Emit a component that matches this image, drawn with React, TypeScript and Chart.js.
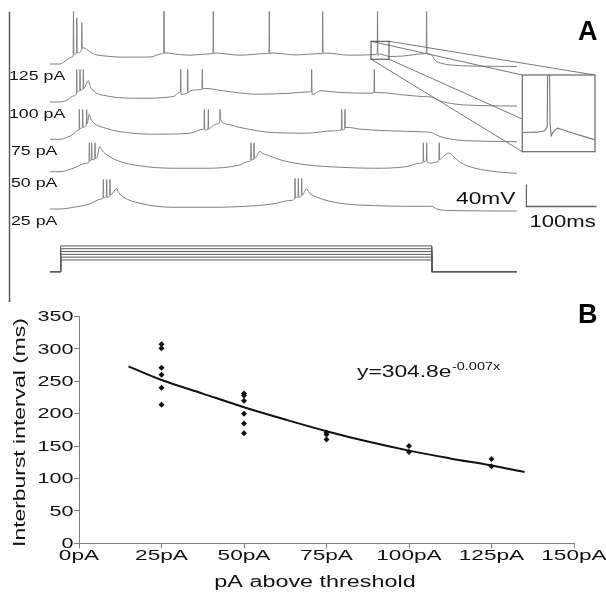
import React, { useEffect, useRef } from 'react';
import { Chart, registerables } from 'chart.js';
Chart.register(...registerables);

// ================= DATA =================
// ---- Panel A: membrane potential traces (time in ms, voltage in mV relative to rest) ----
const TRACE_LABELS = ['125 pA', '100 pA', '75 pA', '50 pA', '25 pA'];

const TRACE_125PA: number[][] = [
  [0, 0], [14.3, 0], [21.4, 5], [31, 12.4],
  [33, 14], [33.5, 96], [34.2, 18], [35.2, 17], [37.8, 22], [38.3, 84], [39, 20],
  [41, 20.4], [44.9, 26], [45.4, 76], [46.1, 28], [47.6, 29.6], [52.4, 26.5], [62, 18.5],
  [81, 14.3], [105, 12.4], [143, 12.7], [159.5, 18.5],
  [162.4, 19.5], [162.9, 96], [163.5, 19], [165.7, 20.4], [176, 18.5], [200, 16], [228.6, 18.5],
  [232.8, 19.5], [233.3, 96], [233.9, 19], [237, 20], [271, 16], [309.5, 19],
  [312.8, 19.5], [313.3, 96], [313.9, 19], [317, 20], [352, 16.5], [385.7, 19],
  [389, 19.5], [389.5, 96], [390.1, 19], [393, 20], [428, 16], [464, 17],
  [466.6, 17.6], [467.4, 19.3], [467.9, 96], [468.4, 20.8], [468.8, 15.4], [469.6, 17.2],
  [471, 18.7], [473.1, 17.9], [476.6, 16.5], [481.4, 14.8], [484.3, 13.7], [504.8, 14.5], [533, 18.5],
  [537.5, 19.5], [538, 96], [538.6, 19], [542, 18.5],
  [546, 15], [550, 7], [560, 1], [580, -2.5], [620, -4], [667, -4.6],
];

const TRACE_100PA: number[][] = [
  [0, 0], [14.3, 0], [25, 4], [33.3, 11],
  [37.6, 14], [38.1, 59.3], [38.7, 18], [40, 19], [42.4, 21], [42.9, 59.3], [43.5, 20], [45, 22],
  [47.1, 24], [47.6, 59.3], [48.2, 24], [50, 28], [54.8, 38.9], [57, 30], [61.9, 20.4],
  [81, 11.1], [128.6, 6.8], [176.2, 9.9],
  [184.8, 17.3], [186.2, 18], [186.7, 59.3], [187.3, 14], [189.5, 14.2], [196.2, 17], [196.7, 59.3],
  [197.3, 17], [200, 20.4], [214.3, 22.2], [217.1, 23], [217.6, 59.3], [218.2, 24], [221.4, 24.7],
  [247.6, 20.4], [295.2, 14.2], [342.9, 16], [370.5, 18.5],
  [373.3, 19], [373.8, 59.3], [374.4, 14], [377.1, 14.2], [385.7, 20.4], [414.3, 17.3], [457, 16],
  [462.8, 17], [463.3, 59.3], [463.9, 17], [467.6, 17.3], [509.5, 12.3], [533.3, 9.9], [545.2, 9],
  [555, 3], [580, -4], [620, -6.5], [667, -7.4],
];

const TRACE_75PA: number[][] = [
  [0, 0], [14.3, 0], [25, 4], [33.3, 9.3], [38.1, 15.4],
  [41.4, 17], [41.9, 54.3], [42.5, 18], [44, 20], [46.2, 21.5], [46.7, 54.3], [47.3, 21.5],
  [49.5, 23], [51.9, 25], [52.4, 54.3], [53, 28], [56.2, 46.3], [58, 38], [61.9, 30.7],
  [81, 19.6], [109.5, 12.2], [152.4, 9.3], [200, 11.1], [219, 18.5],
  [220, 19], [220.5, 54.3], [221.1, 17.2], [223.5, 17.2], [225.7, 18.5], [226.2, 54.3], [226.8, 18.5],
  [232, 24], [238, 27.7], [242.4, 30], [242.9, 54.3], [243.5, 37], [252.4, 27.7], [271.4, 21.5],
  [319, 12.2], [366.7, 11.1], [404.8, 15.4],
  [416.2, 17], [416.7, 54.3], [417.3, 17], [420.9, 18], [421.4, 54.3], [422, 21.5], [426.2, 21.5],
  [442.9, 18.5], [485.7, 15.4], [533.3, 13.5], [545.2, 12.2],
  [555, 6], [580, -1], [620, -3.5], [667, -4.4],
];

const TRACE_50PA: number[][] = [
  [0, 0], [14.3, 0], [33.3, 6.3], [52.4, 15.6],
  [55.7, 17], [56.2, 52.6], [56.8, 19], [58, 20], [59, 21.7], [59.5, 52.6], [60.1, 21.7],
  [61.5, 22], [63.8, 23], [64.3, 52.6], [64.9, 24], [67, 26], [71.4, 46.3], [73.8, 40.2], [81, 30.9],
  [100, 18.5], [128.6, 10.6], [176.2, 6.3], [223.8, 6.3], [271.4, 12.4], [283.3, 18.5],
  [286.6, 20], [287.1, 52.6], [287.7, 21], [289, 21.7], [290.9, 22], [291.4, 52.6], [292, 24],
  [295, 28], [300, 37], [304, 33], [309.5, 30.9], [328.6, 21.7], [366.7, 12.4], [414.3, 8.1],
  [461.9, 6.3], [509.5, 9.3], [528.6, 15.6],
  [532.8, 17], [533.3, 52.6], [533.9, 18], [537.6, 20], [538.1, 52.6], [538.7, 18], [545.2, 15.6],
  [550, 17], [555.5, 20], [556, 52.6], [556.6, 22], [562, 28], [570, 34], [576, 28],
  [585, 18], [600, 9], [630, 1], [667, -3],
];

const TRACE_25PA: number[][] = [
  [0, 0], [14.3, 0], [33.3, 3.1], [57.1, 9.3], [73.8, 18.5],
  [75.7, 19], [76.2, 53.7], [76.8, 20], [78.5, 21], [80.5, 21.5], [81, 53.7], [81.6, 21.6],
  [83.5, 22], [85.2, 23], [85.7, 53.7], [86.3, 25], [90, 30], [95.2, 37], [98, 30], [104.8, 21.6],
  [128.6, 10.5], [176.2, 3.1], [223.8, 3.1], [271.4, 4.3], [319, 9.3], [342.9, 15.4],
  [349.5, 19], [350, 55.6], [350.6, 20], [352.5, 21], [354.3, 21.5], [354.8, 55.6], [355.4, 21.6],
  [357.5, 22], [359, 23], [359.5, 55.6], [360.1, 25], [363, 30], [366.7, 37], [370, 30], [381, 21.6],
  [414.3, 10.5], [461.9, 6.2], [509.5, 4.9], [545.2, 4.9], [552.4, 0], [580, -3], [667, -3.7],
];

const TRACES = [TRACE_125PA, TRACE_100PA, TRACE_75PA, TRACE_50PA, TRACE_25PA];

// current command steps (pA) and step timing (ms): start, onset, offset, end
const STEP_LEVELS_PA = [105, 130, 155, 180, 205, 230];
const STEP_TIMES_MS = [0, 15.3, 545.3, 667];

// scale bar values
const SCALE_BAR_MS = 100;
const SCALE_BAR_MV = 40;
const SCALE_BAR_LABELS = ['40mV', '100ms'];

// magnified window of the 125 pA trace (ms, mV)
const INSET_WINDOW_MS = [458.6, 484.3];
const INSET_WINDOW_MV = [8.7, 41.3];

// ---- Panel B: interburst interval vs current ----
const X_TICK_VALUES = [0, 25, 50, 75, 100, 125, 150];
const X_TICK_LABELS = ['0pA', '25pA', '50pA', '75pA', '100pA', '125pA', '150pA'];
const Y_TICK_VALUES = [0, 50, 100, 150, 200, 250, 300, 350];
const IBI_CURRENT = [25, 25, 25, 25, 25, 25, 50, 50, 50, 50, 50, 50, 75, 75, 75, 100, 100, 125, 125];
const IBI_MS = [307, 301, 271, 260, 240, 214, 231, 228, 220, 200, 185, 170, 171, 168, 160, 150, 141, 130, 119];
const FIT_CURRENT = [15, 25, 37.5, 50, 62.5, 75, 87.5, 100, 112.5, 125, 135];
const FIT_MS = [273, 252, 231, 210, 191, 173, 157, 143, 131, 120, 110];
const FIT_LABEL = 'y=304.8e';
const FIT_LABEL_EXP = '-0.007x';
const X_TITLE = 'pA above threshold';
const Y_TITLE = 'Interburst interval (ms)';

// ================= LAYOUT / STYLE =================
const FONT = '"Liberation Sans", Arial, Helvetica, sans-serif';
const A_W = 606;
const A_H = 302;
const B_W = 606;
const B_H = 294;
const B_TOP = 300;
const MS_PER_PX = 100 / 70;
const MV_PER_PX = 40 / 22;
const PA_PER_PX = 25 / 2.8;
const T0_PX = 50;
const TRACE_BASE_PX = [64, 102, 139.3, 171.7, 209];
const STEP_BASE_PX = 271.7;
const BIG_BOX = { x0: 522.3, y0: 75, x1: 595, y1: 151.7 };
const TRACE_COLOR = '#7f7f7f';

function drawText(
  ctx: CanvasRenderingContext2D,
  text: string,
  x: number,
  y: number,
  size: number,
  o: { align?: CanvasTextAlign; baseline?: CanvasTextBaseline; bold?: boolean; k?: number; color?: string; rotate?: number } = {}
) {
  const { align = 'left', baseline = 'alphabetic', bold = false, k = 1, color = '#111', rotate = 0 } = o;
  ctx.save();
  ctx.translate(x, y);
  if (rotate) ctx.rotate(rotate);
  ctx.scale(k, 1);
  ctx.font = `${bold ? 'bold ' : ''}${size}px ${FONT}`;
  ctx.textAlign = align;
  ctx.textBaseline = baseline;
  ctx.fillStyle = color;
  ctx.fillText(text, 0, 0);
  const w = ctx.measureText(text).width * k;
  ctx.restore();
  return w;
}

function buildA(): any {
  const traceSets = TRACES.map((tr, i) => ({
    data: tr.map(([t, v]) => ({ x: t, y: v - TRACE_BASE_PX[i] * MV_PER_PX })),
    showLine: true,
    borderColor: TRACE_COLOR,
    borderWidth: 1,
    pointRadius: 0,
    cubicInterpolationMode: 'monotone',
    yAxisID: 'y',
  }));
  const [s0, sOn, sOff, sEnd] = STEP_TIMES_MS;
  const stepSets = STEP_LEVELS_PA.map((L) => ({
    data: [
      { x: s0, y: 0 }, { x: sOn, y: 0 }, { x: sOn, y: L }, { x: sOff, y: L }, { x: sOff, y: 0 }, { x: sEnd, y: 0 },
    ],
    showLine: true,
    borderColor: '#5a5a5a',
    borderWidth: 1,
    pointRadius: 0,
    tension: 0,
    yAxisID: 'yI',
  }));
  const barT = (526.4 - T0_PX) * MS_PER_PX;
  const barV = -206.5 * MV_PER_PX;
  const barSet = {
    data: [
      { x: barT, y: barV + SCALE_BAR_MV }, { x: barT, y: barV }, { x: barT + SCALE_BAR_MS, y: barV },
    ],
    showLine: true,
    borderColor: '#666',
    borderWidth: 1.3,
    pointRadius: 0,
    tension: 0,
    yAxisID: 'y',
  };

  const plugin = {
    id: 'panelA',
    afterDatasetsDraw(chart: any) {
      const ctx: CanvasRenderingContext2D = chart.ctx;
      const xs = chart.scales.x;
      const ys = chart.scales.y;
      // left frame line
      ctx.save();
      ctx.strokeStyle = '#555';
      ctx.lineWidth = 1.4;
      ctx.beginPath();
      ctx.moveTo(9.5, 11.7);
      ctx.lineTo(9.5, A_H);
      ctx.stroke();
      ctx.restore();

      // inset
      const base = -TRACE_BASE_PX[0] * MV_PER_PX;
      const sx0 = xs.getPixelForValue(INSET_WINDOW_MS[0]);
      const sx1 = xs.getPixelForValue(INSET_WINDOW_MS[1]);
      const sy0 = ys.getPixelForValue(base + INSET_WINDOW_MV[1]);
      const sy1 = ys.getPixelForValue(base + INSET_WINDOW_MV[0]);
      const B = BIG_BOX;
      ctx.save();
      ctx.strokeStyle = '#777';
      ctx.lineWidth = 1;
      ctx.beginPath();
      ctx.moveTo(sx0, sy0); ctx.lineTo(B.x0, B.y0);
      ctx.moveTo(sx1, sy0); ctx.lineTo(B.x1, B.y0);
      ctx.moveTo(sx0, sy1); ctx.lineTo(B.x0, B.y1);
      ctx.moveTo(sx1, sy1); ctx.lineTo(B.x1, B.y1);
      ctx.stroke();
      ctx.fillStyle = '#fff';
      ctx.fillRect(B.x0, B.y0, B.x1 - B.x0, B.y1 - B.y0);
      ctx.strokeStyle = '#666';
      ctx.lineWidth = 1.2;
      ctx.strokeRect(B.x0, B.y0, B.x1 - B.x0, B.y1 - B.y0);
      // magnified trace
      const mx = (B.x1 - B.x0) / (sx1 - sx0);
      const my = (B.y1 - B.y0) / (sy1 - sy0);
      ctx.save();
      ctx.beginPath();
      ctx.rect(B.x0, B.y0, B.x1 - B.x0, B.y1 - B.y0);
      ctx.clip();
      ctx.strokeStyle = '#777';
      ctx.lineWidth = 1.1;
      ctx.beginPath();
      TRACE_125PA.forEach(([t, v], i) => {
        const px = B.x0 + (xs.getPixelForValue(t) - sx0) * mx;
        const py = B.y0 + (ys.getPixelForValue(base + v) - sy0) * my;
        if (i === 0) ctx.moveTo(px, py); else ctx.lineTo(px, py);
      });
      ctx.stroke();
      ctx.restore();
      // small box
      ctx.strokeStyle = '#444';
      ctx.lineWidth = 1;
      ctx.strokeRect(sx0, sy0, sx1 - sx0, sy1 - sy0);
      ctx.restore();

      // texts
      TRACE_LABELS.forEach((lab, i) => {
        const y = ys.getPixelForValue(-TRACE_BASE_PX[i] * MV_PER_PX) + 15.5;
        drawText(ctx, lab, lab.length > 5 ? 9 : 11, y, 12.5, { k: 1.42 });
      });
      drawText(ctx, SCALE_BAR_LABELS[0], 456, 203.5, 16, { k: 1.42 });
      drawText(ctx, SCALE_BAR_LABELS[1], 529.5, 226.5, 16, { k: 1.38 });
      drawText(ctx, 'A', 578, 40, 27, { bold: true, color: '#000' });
    },
  };

  return {
    type: 'scatter',
    data: { datasets: [...stepSets, ...traceSets, barSet] },
    options: {
      animation: false,
      responsive: false,
      events: [],
      layout: { padding: 0 },
      plugins: { legend: { display: false }, tooltip: { enabled: false } },
      scales: {
        x: { type: 'linear', display: false, min: -T0_PX * MS_PER_PX, max: (A_W - T0_PX) * MS_PER_PX },
        y: { type: 'linear', display: false, min: -A_H * MV_PER_PX, max: 0 },
        yI: {
          type: 'linear', axis: 'y', display: false,
          min: -(A_H - STEP_BASE_PX) * PA_PER_PX, max: STEP_BASE_PX * PA_PER_PX,
        },
      },
    },
    plugins: [plugin],
  };
}

function buildB(): any {
  const axisColor = '#808080';
  const K = 1.46;
  const plugin = {
    id: 'panelB',
    afterDraw(chart: any) {
      const ctx: CanvasRenderingContext2D = chart.ctx;
      const xs = chart.scales.x;
      const ys = chart.scales.y;
      const area = chart.chartArea;
      // frame line continuation
      ctx.save();
      ctx.strokeStyle = '#555';
      ctx.lineWidth = 1.4;
      ctx.beginPath();
      ctx.moveTo(9.5, 0);
      ctx.lineTo(9.5, 1.7);
      ctx.stroke();
      ctx.restore();

      Y_TICK_VALUES.forEach((v) => {
        drawText(ctx, String(v), area.left - 5.5, ys.getPixelForValue(v) + 0.5, 15, { align: 'right', baseline: 'middle', k: 1.44 });
      });
      X_TICK_VALUES.forEach((v, i) => {
        drawText(ctx, X_TICK_LABELS[i], xs.getPixelForValue(v), 260, 15.5, { align: 'center', k: K });
      });
      drawText(ctx, X_TITLE, 315, 287, 16, { align: 'center', k: 1.46 });
      drawText(ctx, Y_TITLE, 20.5, 132.5, 16, { align: 'center', baseline: 'middle', k: 1.43, rotate: -Math.PI / 2 });
      const w = drawText(ctx, FIT_LABEL, 357, 77, 16.3, { k: 1.4 });
      drawText(ctx, FIT_LABEL_EXP, 357 + w + 0.5, 69.5, 10, { k: 1.45 });
      drawText(ctx, 'B', 578, 23.3, 27, { bold: true, color: '#000' });
    },
  };
  const gridCfg = { display: true, drawOnChartArea: false, drawTicks: true, tickLength: 5, color: axisColor, lineWidth: 1 };
  const borderCfg = { display: true, color: axisColor, width: 1 };
  return {
    type: 'scatter',
    data: {
      datasets: [
        {
          data: FIT_CURRENT.map((x, i) => ({ x, y: FIT_MS[i] })),
          showLine: true,
          borderColor: '#111',
          borderWidth: 2,
          pointRadius: 0,
          tension: 0.35,
        },
        {
          data: IBI_CURRENT.map((x, i) => ({ x, y: IBI_MS[i] })),
          showLine: false,
          pointStyle: 'rectRot',
          pointRadius: 3,
          backgroundColor: '#111',
          borderColor: '#111',
          borderWidth: 0,
        },
      ],
    },
    options: {
      animation: false,
      responsive: false,
      events: [],
      layout: { padding: { left: 74, right: 32, top: 16.5, bottom: B_H - 243.3 - 5 } },
      plugins: { legend: { display: false }, tooltip: { enabled: false } },
      scales: {
        x: { type: 'linear', min: 0, max: 150, ticks: { stepSize: 25, display: false }, grid: gridCfg, border: borderCfg, title: { display: false } },
        y: { type: 'linear', min: 0, max: 350, ticks: { stepSize: 50, display: false }, grid: gridCfg, border: borderCfg, title: { display: false } },
      },
    },
    plugins: [plugin],
  };
}

export default function App() {
  const aRef = useRef<HTMLCanvasElement>(null);
  const bRef = useRef<HTMLCanvasElement>(null);
  useEffect(() => {
    const a = new Chart(aRef.current as HTMLCanvasElement, buildA());
    const b = new Chart(bRef.current as HTMLCanvasElement, buildB());
    return () => {
      a.destroy();
      b.destroy();
    };
  }, []);
  return (
    <div style={{ position: 'absolute', left: 0, top: 0, width: 606, height: 594, background: '#fff', overflow: 'hidden' }}>
      <canvas ref={aRef} width={A_W} height={A_H} style={{ position: 'absolute', left: 0, top: 0, width: A_W, height: A_H }} />
      <canvas ref={bRef} width={B_W} height={B_H} style={{ position: 'absolute', left: 0, top: B_TOP, width: B_W, height: B_H }} />
    </div>
  );
}
